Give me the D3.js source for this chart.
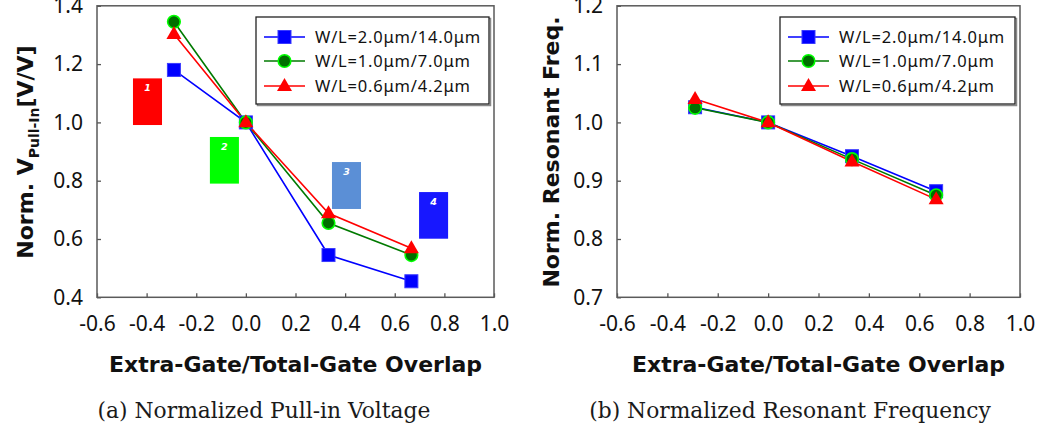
<!DOCTYPE html>
<html>
<head>
<meta charset="utf-8">
<script src="https://cdn.jsdelivr.net/npm/d3@7/dist/d3.min.js"></script>
<style>
  html, body { margin: 0; padding: 0; background: #fff; }
  svg { display: block; }
</style>
</head>
<body>
<svg id="chart" width="1045" height="431"></svg>
<script>
// Extra-gate / total-gate overlap ratios (x values shared by every series)
const overlap = [-0.29, 0.0, 0.333, 0.667];

const seriesNames = ["W/L=2.0\u03bcm/14.0\u03bcm", "W/L=1.0\u03bcm/7.0\u03bcm", "W/L=0.6\u03bcm/4.2\u03bcm"];

// Normalized pull-in voltage
const pullIn_2p0 = [1.18, 1.0, 0.545, 0.455];
const pullIn_1p0 = [1.345, 1.0, 0.655, 0.545];
const pullIn_0p6 = [1.303, 1.0, 0.688, 0.568];

// Normalized resonant frequency
const freq_2p0 = [1.026, 1.0, 0.942, 0.882];
const freq_1p0 = [1.025, 1.0, 0.937, 0.875];
const freq_0p6 = [1.040, 1.0, 0.933, 0.868];

// Axis ticks
const xTicks = [-0.6, -0.4, -0.2, 0.0, 0.2, 0.4, 0.6, 0.8, 1.0];
const yTicksPullIn = [0.4, 0.6, 0.8, 1.0, 1.2, 1.4];
const yTicksFreq = [0.7, 0.8, 0.9, 1.0, 1.1, 1.2];

// Numbered regions in the pull-in panel (data units)
const regionLabels = ["1", "2", "3", "4"];
const regionX0 = [-0.455, -0.145, 0.347, 0.698];
const regionX1 = [-0.338, -0.028, 0.464, 0.815];
const regionYTop = [1.151, 0.950, 0.864, 0.761];
const regionYBot = [0.991, 0.790, 0.703, 0.601];
const regionColors = ["#ff0000", "#00ff00", "#5b8fd6", "#1717ff"];

const svg = d3.select("#chart");

// tick labels use a plain hyphen for negatives
const fmt = d => d3.format(".1f")(d).replace("\u2212", "-");

const styles = [
  { line: "#0000ff", shape: "square" },
  { line: "#007a00", shape: "circle" },
  { line: "#ff0000", shape: "triangle" }
];

function drawMarker(g, shape, cx, cy) {
  if (shape === "square") {
    g.append("rect")
      .attr("x", cx - 6.5).attr("y", cy - 6.5)
      .attr("width", 13).attr("height", 13)
      .attr("fill", "#0000ff").attr("stroke", "#3a3aff").attr("stroke-width", 1);
  } else if (shape === "circle") {
    g.append("circle")
      .attr("cx", cx).attr("cy", cy).attr("r", 6.3)
      .attr("fill", "#006f00").attr("stroke", "#00ff00").attr("stroke-width", 1.6);
  } else {
    const s = 15, h = 13;
    g.append("path")
      .attr("d", `M${cx},${cy - h * 0.62}L${cx + s / 2},${cy + h * 0.38}L${cx - s / 2},${cy + h * 0.38}Z`)
      .attr("fill", "#ff0000");
  }
}

function panel(opt) {
  const x = d3.scaleLinear().domain([-0.6, 1.0]).range([opt.left, opt.right]);
  const y = d3.scaleLinear().domain(opt.yDomain).range([297.3, 5.8]);
  const g = svg.append("g");

  // x axis
  const xa = g.append("g")
    .attr("transform", `translate(0,${y.range()[0]})`)
    .call(d3.axisBottom(x).tickValues(xTicks).tickFormat(fmt)
      .tickSizeInner(-4).tickSizeOuter(0).tickPadding(19));
  xa.select(".domain").remove();
  xa.selectAll("line").attr("stroke", "#555").attr("stroke-width", 1.3);
  xa.selectAll("text").attr("font-family", "'Noto Sans', sans-serif").attr("font-size", 21).attr("fill", "#111");

  // y axis
  const ya = g.append("g")
    .attr("transform", `translate(${opt.left},0)`)
    .call(d3.axisLeft(y).tickValues(opt.yTicks).tickFormat(fmt)
      .tickSizeInner(-4).tickSizeOuter(0).tickPadding(14));
  ya.select(".domain").remove();
  ya.selectAll("line").attr("stroke", "#555").attr("stroke-width", 1.3);
  ya.selectAll("text").attr("font-family", "'Noto Sans', sans-serif").attr("font-size", 21).attr("fill", "#111");

  // plot frame
  g.append("rect")
    .attr("x", opt.left).attr("y", y.range()[1])
    .attr("width", opt.right - opt.left).attr("height", y.range()[0] - y.range()[1])
    .attr("fill", "none").attr("stroke", "#5a5a5a").attr("stroke-width", 1.5);

  // numbered regions
  if (opt.regions) {
    regionLabels.forEach((lab, i) => {
      g.append("rect")
        .attr("x", x(regionX0[i])).attr("y", y(regionYTop[i]))
        .attr("width", x(regionX1[i]) - x(regionX0[i]))
        .attr("height", y(regionYBot[i]) - y(regionYTop[i]))
        .attr("fill", regionColors[i]);
      g.append("text")
        .attr("x", (x(regionX0[i]) + x(regionX1[i])) / 2)
        .attr("y", y(regionYTop[i]) + 13)
        .attr("text-anchor", "middle")
        .attr("font-family", "'DejaVu Sans', sans-serif")
        .attr("font-size", 9.5).attr("font-weight", "bold").attr("font-style", "italic")
        .attr("fill", "#ffffff")
        .text(lab);
    });
  }

  // series
  const line = d3.line().x(d => x(d[0])).y(d => y(d[1]));
  opt.series.forEach((vals, i) => {
    const pts = overlap.map((o, k) => [o, vals[k]]);
    g.append("path").datum(pts)
      .attr("d", line).attr("fill", "none")
      .attr("stroke", styles[i].line).attr("stroke-width", 1.6);
  });
  opt.series.forEach((vals, i) => {
    overlap.forEach((o, k) => drawMarker(g, styles[i].shape, x(o), y(vals[k])));
  });

  // legend
  const lg = g.append("g");
  lg.append("rect")
    .attr("x", opt.legX + 1.5).attr("y", 18.5)
    .attr("width", opt.legW).attr("height", 87)
    .attr("fill", "none").attr("stroke", "#888").attr("stroke-width", 1.5);
  lg.append("rect")
    .attr("x", opt.legX).attr("y", 17)
    .attr("width", opt.legW).attr("height", 87)
    .attr("fill", "#fff").attr("stroke", "#222").attr("stroke-width", 1.3);
  const rowY = [37, 61, 86];
  seriesNames.forEach((name, i) => {
    const lx0 = opt.legX + 8, lx1 = opt.legX + 49;
    lg.append("line")
      .attr("x1", lx0).attr("x2", lx1).attr("y1", rowY[i]).attr("y2", rowY[i])
      .attr("stroke", styles[i].line).attr("stroke-width", 1.6);
    drawMarker(lg, styles[i].shape, (lx0 + lx1) / 2, rowY[i]);
    lg.append("text")
      .attr("x", opt.legX + 59).attr("y", rowY[i]).attr("dy", "0.36em")
      .attr("font-family", "'Noto Sans', sans-serif").attr("font-size", 16.5)
      .attr("letter-spacing", 0.8).attr("fill", "#111")
      .text(name);
  });

  // axis titles
  const cx = (opt.left + opt.right) / 2;
  g.append("text")
    .attr("x", cx).attr("y", 372)
    .attr("text-anchor", "middle")
    .attr("font-family", "'DejaVu Sans', sans-serif").attr("font-size", 22).attr("font-weight", "bold")
    .attr("fill", "#111")
    .text("Extra-Gate/Total-Gate Overlap");

  const yt = g.append("text")
    .attr("transform", `translate(${opt.yTitleX},152) rotate(-90)`)
    .attr("text-anchor", "middle")
    .attr("font-family", "'DejaVu Sans', sans-serif").attr("font-size", 22).attr("font-weight", "bold")
    .attr("fill", "#111");
  opt.yTitle(yt);

  // caption
  g.append("text")
    .attr("x", opt.capX).attr("y", 418)
    .attr("text-anchor", "middle")
    .attr("font-family", "'DejaVu Serif', serif").attr("font-size", 21.8)
    .attr("fill", "#1a1a1a")
    .text(opt.caption);
}

panel({
  left: 97, right: 494,
  yDomain: [0.4, 1.4], yTicks: yTicksPullIn,
  series: [pullIn_2p0, pullIn_1p0, pullIn_0p6],
  regions: true,
  legX: 256, legW: 233,
  yTitleX: 33,
  yTitle: t => {
    t.append("tspan").text("Norm. V");
    t.append("tspan").attr("font-size", 14).attr("dy", 6).text("Pull-In");
    t.append("tspan").attr("dy", -6).text("[V/V]");
  },
  capX: 264,
  caption: "(a) Normalized Pull-in Voltage"
});

panel({
  left: 617, right: 1020,
  yDomain: [0.7, 1.2], yTicks: yTicksFreq,
  series: [freq_2p0, freq_1p0, freq_0p6],
  regions: false,
  legX: 780, legW: 235,
  yTitleX: 559,
  yTitle: t => t.text("Norm. Resonant Freq."),
  capX: 790,
  caption: "(b) Normalized Resonant Frequency"
});
</script>
</body>
</html>
